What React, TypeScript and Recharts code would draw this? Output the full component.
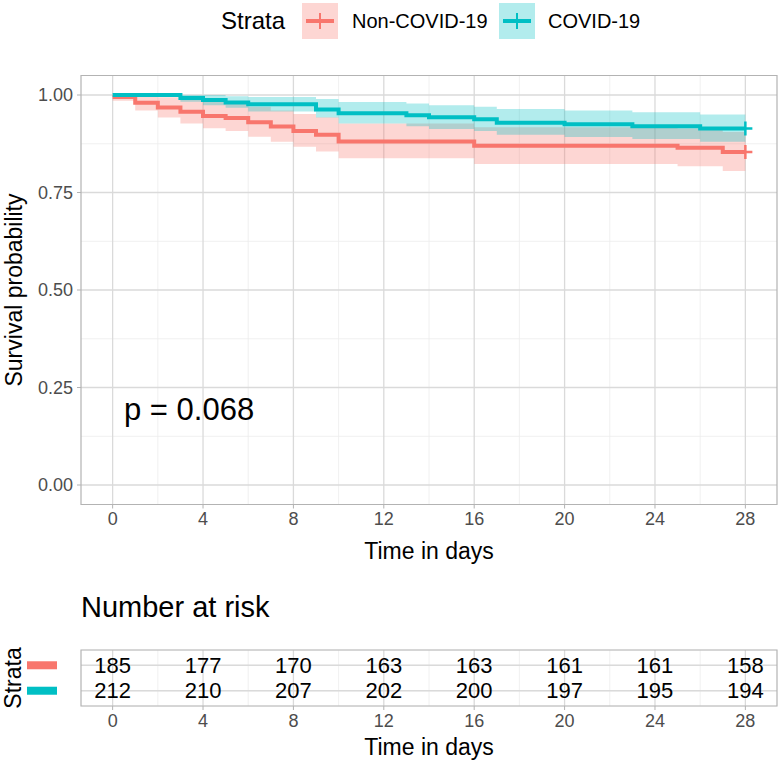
import React from "react";
import {
  ComposedChart, Line, Area, Scatter, XAxis, YAxis, CartesianGrid, ReferenceArea, Label,
} from "recharts";

const RED = "#F8766D";
const TEAL = "#00BFC4";
const FONT = "'Liberation Sans', Arial, Helvetica, sans-serif";

const dayTicks = [0, 4, 8, 12, 16, 20, 24, 28];
const dayMinor = [2, 6, 10, 14, 18, 22, 26];
const probTicks = [0, 0.25, 0.5, 0.75, 1];
const probMinor = [0.125, 0.375, 0.625, 0.875];

// Non-COVID-19 Kaplan-Meier steps
const nonCovidTime = [0, 1, 2, 3, 4, 5, 6, 7, 8, 9, 10, 16, 25, 27, 28];
const nonCovidSurv = [0.995, 0.98, 0.968, 0.957, 0.946, 0.941, 0.93, 0.919, 0.908, 0.898, 0.881, 0.87, 0.865, 0.854, 0.854];
const nonCovidLower = [0.985, 0.96, 0.942, 0.927, 0.915, 0.908, 0.893, 0.88, 0.867, 0.855, 0.838, 0.823, 0.817, 0.805, 0.805];
const nonCovidUpper = [1.0, 0.999, 0.994, 0.988, 0.982, 0.977, 0.97, 0.96, 0.951, 0.943, 0.927, 0.917, 0.914, 0.905, 0.905];

// COVID-19
const covidTime = [0, 3, 4, 5, 6, 9, 10, 13, 14, 16, 17, 20, 23, 26, 28];
const covidSurv = [1.0, 0.992, 0.987, 0.981, 0.976, 0.963, 0.953, 0.948, 0.943, 0.938, 0.929, 0.925, 0.92, 0.914, 0.914];
const covidLower = [1.0, 0.983, 0.974, 0.967, 0.958, 0.942, 0.927, 0.92, 0.913, 0.908, 0.898, 0.892, 0.887, 0.88, 0.88];
const covidUpper = [1.0, 1.0, 1.0, 0.997, 0.995, 0.99, 0.982, 0.978, 0.974, 0.97, 0.964, 0.96, 0.956, 0.95, 0.95];

const riskTimes = [0, 4, 8, 12, 16, 20, 24, 28];
const nonCovidRisk = [185, 177, 170, 163, 163, 161, 161, 158];
const covidRisk = [212, 210, 207, 202, 200, 197, 195, 194];

const toRows = (t: number[], s: number[], lo: number[], hi: number[]) =>
  t.map((x, i) => ({ t: x, s: s[i], band: [lo[i], hi[i]], last: i === t.length - 1 }));

const nonCovidRows = toRows(nonCovidTime, nonCovidSurv, nonCovidLower, nonCovidUpper);
const covidRows = toRows(covidTime, covidSurv, covidLower, covidUpper);

const riskRows = [
  ...riskTimes.map((t, i) => ({ t, row: 2, n: nonCovidRisk[i] })),
  ...riskTimes.map((t, i) => ({ t, row: 1, n: covidRisk[i] })),
];

const censor = (color: string) => (props: any) => {
  const { cx, cy, payload, index } = props;
  if (!payload?.last) return <g key={`c${index}`} />;
  return (
    <g key={`c${index}`}>
      <line x1={cx - 6} x2={cx + 7} y1={cy} y2={cy} stroke={color} strokeWidth={2.5} />
      <line x1={cx} x2={cx} y1={cy - 7} y2={cy + 7} stroke={color} strokeWidth={2.5} />
    </g>
  );
};

const tickStyle = { fontSize: 18, fill: "#4d4d4d", fontFamily: FONT };
const titleStyle = { fontSize: 23, fill: "#000", fontFamily: FONT };
const xDomain = [-1.4, 29.4];

function LegendKey({ color, left }: { color: string; left: number }) {
  return (
    <div style={{ position: "absolute", left, top: 3, width: 36, height: 36, background: color + "4D" }}>
      <div style={{ position: "absolute", left: 4, right: 4, top: 16, height: 4, background: color }} />
      <div style={{ position: "absolute", left: 17, top: 10, width: 2, height: 16, background: color }} />
    </div>
  );
}

const rowTick = (props: any) => {
  const { x, y, payload } = props;
  const color = payload.value === 2 ? RED : TEAL;
  return <rect x={x - 46} y={y - 4} width={30} height={8} fill={color} />;
};

const legendText = (left: number, size: number): React.CSSProperties => ({
  position: "absolute", left, top: 21, transform: "translateY(-50%)", fontSize: size, color: "#000", whiteSpace: "nowrap",
});

export default function App() {
  return (
    <div style={{ position: "absolute", left: 0, top: 0, width: 780, height: 766, background: "#fff", fontFamily: FONT }}>
      {/* legend */}
      <div style={legendText(221, 24)}>Strata</div>
      <LegendKey color={RED} left={302} />
      <div style={legendText(352, 20)}>Non-COVID-19</div>
      <LegendKey color={TEAL} left={499} />
      <div style={legendText(548, 20)}>COVID-19</div>

      <ComposedChart width={780} height={570} margin={{ top: 75.5, right: 3, bottom: 0, left: 0 }}>
        <CartesianGrid verticalValues={dayMinor} horizontalValues={probMinor} stroke="#ececec" strokeWidth={0.8} />
        <CartesianGrid verticalValues={dayTicks} horizontalValues={probTicks} stroke="#dadada" strokeWidth={1.3} />
        <XAxis
          type="number" dataKey="t" domain={xDomain} ticks={dayTicks} allowDataOverflow
          axisLine={false} tickSize={4} tickMargin={4} tickLine={{ stroke: "#b3b3b3" }}
          tick={tickStyle} height={65.5}
        >
          <Label value="Time in days" position="insideBottom" offset={11} style={titleStyle} />
        </XAxis>
        <YAxis
          type="number" domain={[-0.05, 1.05]} ticks={probTicks} allowDataOverflow
          tickFormatter={(v: number) => v.toFixed(2)}
          axisLine={false} tickSize={4} tickMargin={4} tickLine={{ stroke: "#b3b3b3" }}
          tick={tickStyle} width={81}
        >
          <Label value="Survival probability" angle={-90} position="insideLeft" offset={14}
            style={{ ...titleStyle, textAnchor: "middle" }} />
        </YAxis>
        <Area data={nonCovidRows} dataKey="band" type="stepAfter" fill={RED} fillOpacity={0.3} stroke="none" isAnimationActive={false} />
        <Area data={covidRows} dataKey="band" type="stepAfter" fill={TEAL} fillOpacity={0.3} stroke="none" isAnimationActive={false} />
        <Line data={nonCovidRows} dataKey="s" type="stepAfter" stroke={RED} strokeWidth={4} dot={censor(RED)} activeDot={false} isAnimationActive={false} />
        <Line data={covidRows} dataKey="s" type="stepAfter" stroke={TEAL} strokeWidth={4} dot={censor(TEAL)} activeDot={false} isAnimationActive={false} />
        <ReferenceArea x1={xDomain[0]} x2={xDomain[1]} y1={-0.05} y2={1.05} fill="none" stroke="#b3b3b3" strokeWidth={1.2} ifOverflow="visible" />
      </ComposedChart>

      <div style={{ position: "absolute", left: 124, top: 410, transform: "translateY(-50%)", fontSize: 31, color: "#000" }}>p = 0.068</div>

      <div style={{ position: "absolute", left: 81, top: 607, transform: "translateY(-50%)", fontSize: 29, color: "#000" }}>Number at risk</div>

      <div style={{ position: "absolute", left: 0, top: 570 }}>
        <ComposedChart width={780} height={196} margin={{ top: 80, right: 3, bottom: 0, left: 0 }}>
          <CartesianGrid verticalValues={dayMinor} horizontalValues={[]} stroke="#ececec" strokeWidth={0.8} />
          <CartesianGrid verticalValues={dayTicks} horizontalValues={[1, 2]} stroke="#dadada" strokeWidth={1.3} />
          <XAxis
            type="number" dataKey="t" domain={xDomain} ticks={dayTicks} allowDataOverflow
            axisLine={false} tickSize={4} tickMargin={4} tickLine={{ stroke: "#b3b3b3" }}
            tick={tickStyle} height={60}
          >
            <Label value="Time in days" position="insideBottom" offset={11} style={titleStyle} />
          </XAxis>
          <YAxis
            type="number" dataKey="row" domain={[0.4, 2.6]} ticks={[1, 2]} allowDataOverflow
            axisLine={false} tickLine={false} tick={rowTick} width={81}
          >
            <Label value="Strata" angle={-90} position="insideLeft" offset={13}
              style={{ ...titleStyle, textAnchor: "middle" }} />
          </YAxis>
          <Scatter
            data={riskRows} dataKey="row" isAnimationActive={false}
            shape={(p: any) => (
              <text x={p.cx} y={p.cy} textAnchor="middle" dominantBaseline="central" fontSize={22} fill="#000" fontFamily={FONT}>
                {p.payload.n}
              </text>
            )}
          />
          <ReferenceArea x1={xDomain[0]} x2={xDomain[1]} y1={0.4} y2={2.6} fill="none" stroke="#b3b3b3" strokeWidth={1.2} ifOverflow="visible" />
        </ComposedChart>
      </div>
    </div>
  );
}
